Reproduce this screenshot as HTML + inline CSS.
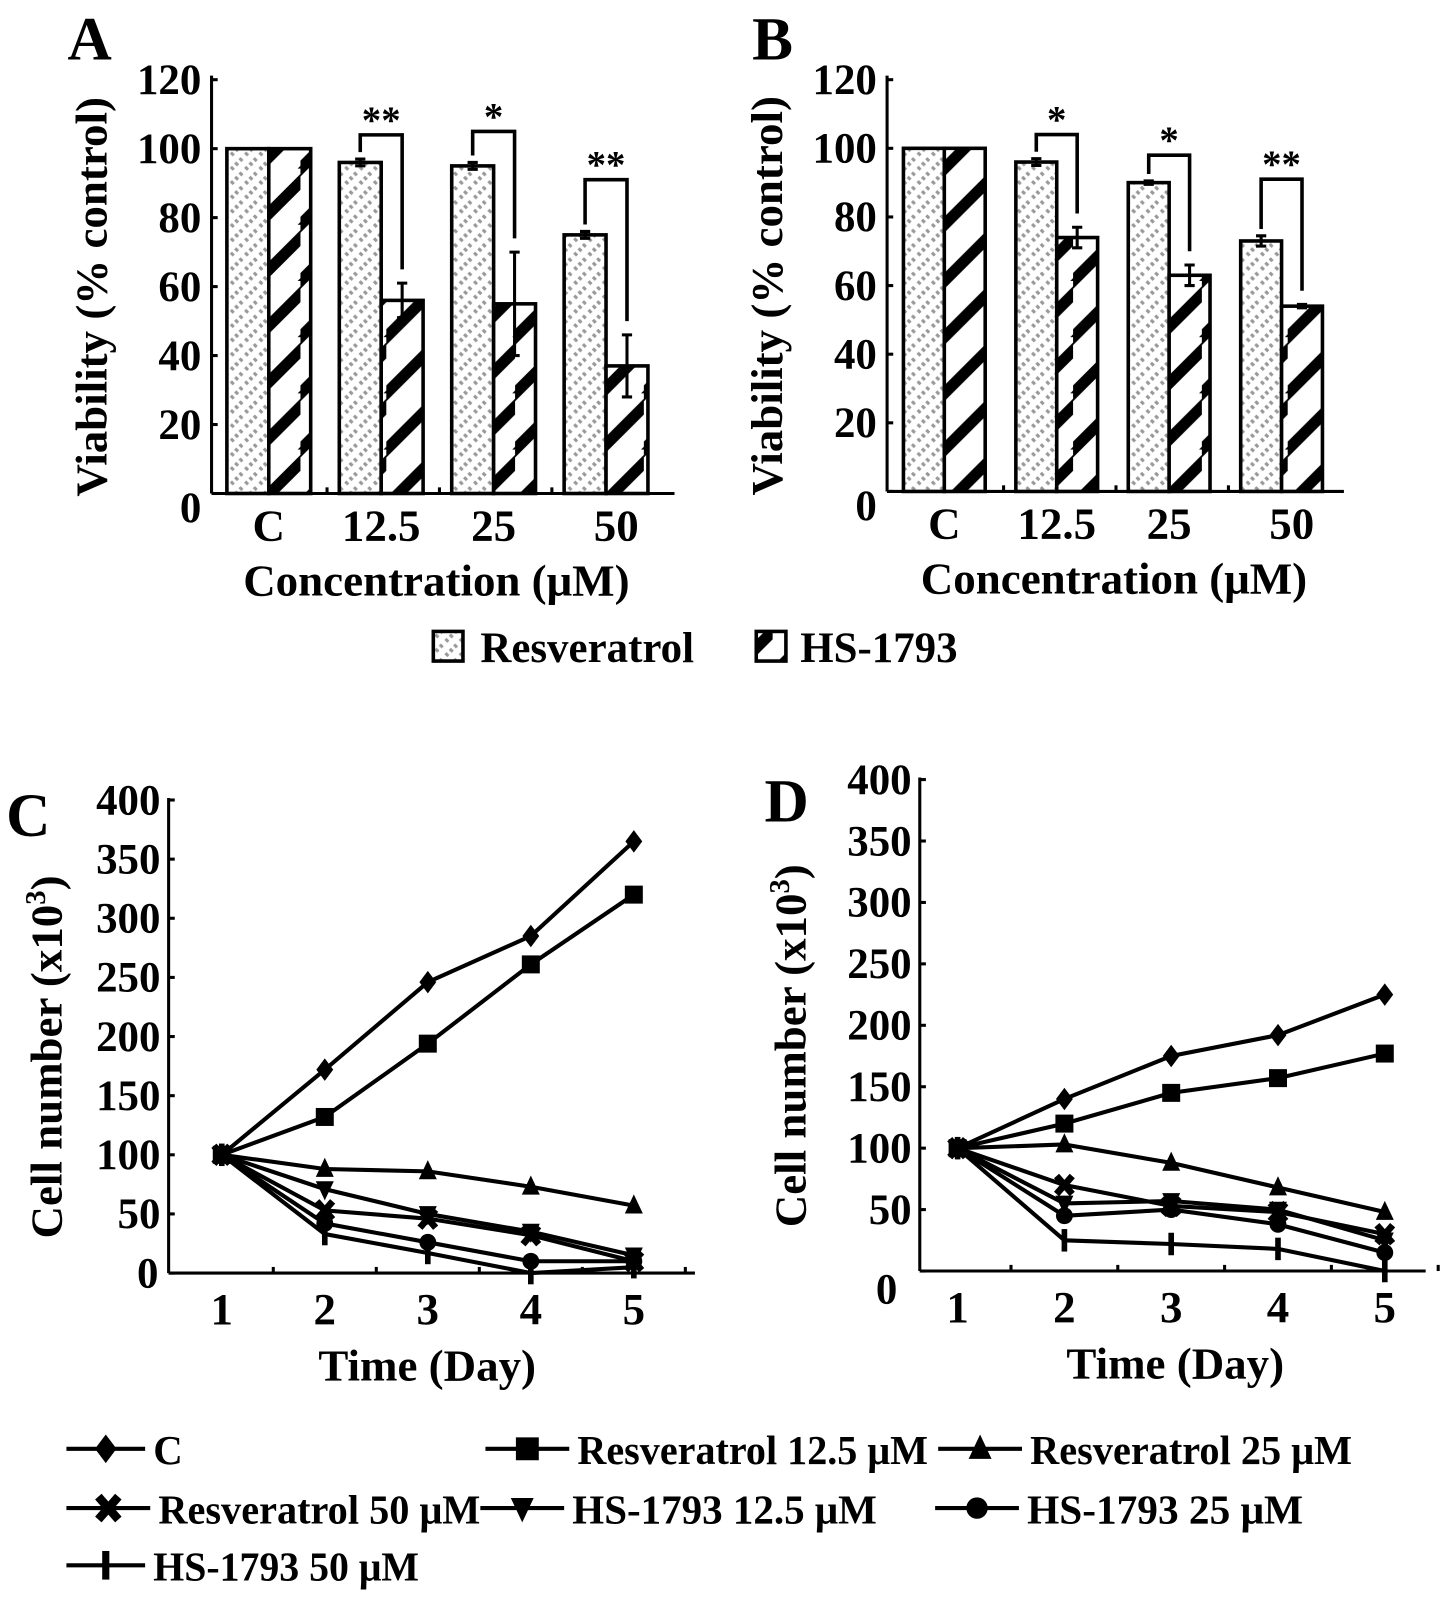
<!DOCTYPE html>
<html><head><meta charset="utf-8"><style>
html,body{margin:0;padding:0;background:#fff}
svg{display:block}
text{font-family:"Liberation Serif",serif;font-weight:bold;fill:#000}
</style></head><body>
<svg id="fig" width="1441" height="1599" viewBox="0 0 1410 1565" preserveAspectRatio="none" xmlns="http://www.w3.org/2000/svg">
<defs>
<pattern id="pResv" patternUnits="userSpaceOnUse" width="14" height="14">
<rect width="14" height="14" fill="#fff"/>
<path d="M-2,16 L16,-2" stroke="#999" stroke-width="4" stroke-dasharray="3,3"/>
</pattern>
<pattern id="pHS" patternUnits="userSpaceOnUse" width="42" height="55">
<rect width="42" height="55" fill="#fff"/>
<path d="M-5,60 L47,8 M-5,5 L10,-10 M37,65 L52,50" stroke="#000" stroke-width="11"/>
</pattern>
</defs>
<g id="root"></g>
</svg>
<script>
// ---- Bar chart data (panels A, B) ----
const barCategories = ["C", "12.5", "25", "50"];
const resvA = [100, 96, 95, 75];
const resvAErr = [0, 1, 1, 1];
const hsA = [100, 56, 55, 37];
const hsAErr = [0, 5, 15, 9];
const resvB = [100, 96, 90, 73];
const resvBErr = [0, 1, 0.5, 1.5];
const hsB = [100, 74, 63, 54];
const hsBErr = [0, 3, 3, 0.5];
const sigA = ["", "**", "*", "**"];
const sigB = ["", "*", "*", "**"];
const bracketA = [0, 104, 105, 91];
const bracketB = [0, 104, 98, 91];
const barTicks = [0, 20, 40, 60, 80, 100, 120];

// ---- Line chart data (panels C, D) ----
const days = [1, 2, 3, 4, 5];
const lineTicks = [0, 50, 100, 150, 200, 250, 300, 350, 400];
const seriesNames = ["C", "Resveratrol 12.5 μM", "Resveratrol 25 μM", "Resveratrol 50 μM", "HS-1793 12.5 μM", "HS-1793 25 μM", "HS-1793 50 μM"];
const seriesMarkers = ["diamond", "square", "triangle", "cross", "tridown", "circle", "bar"];
const cC = [100, 172, 246, 285, 365];
const cR125 = [100, 132, 194, 261, 320];
const cR25 = [100, 88, 86, 73, 57];
const cR50 = [100, 53, 46, 32, 10];
const cH125 = [100, 71, 50, 35, 15];
const cH25 = [100, 42, 26, 10, 10];
const cH50 = [100, 33, 17, 0, 5];
const dC = [100, 140, 175, 192, 225];
const dR125 = [100, 120, 145, 157, 177];
const dR25 = [100, 103, 88, 68, 48];
const dR50 = [100, 70, 53, 48, 30];
const dH125 = [100, 55, 57, 50, 25];
const dH25 = [100, 45, 50, 38, 15];
const dH50 = [100, 25, 22, 18, 0];

const NS = "http://www.w3.org/2000/svg";
const root = document.getElementById("root");
function el(tag, attrs, parent) {
  const e = document.createElementNS(NS, tag);
  for (const k in attrs) e.setAttribute(k, attrs[k]);
  (parent || root).appendChild(e);
  return e;
}
function txt(s, x, y, size, parent, anchor) {
  const t = el("text", {x: x, y: y, "font-size": size, "text-anchor": anchor || "middle"}, parent);
  t.textContent = s;
  return t;
}

function barPanel(cfg) {
  const g = el("g", {});
  
  
  const yS = v => cfg.y0 - (v / 120) * (cfg.y0 - cfg.yTop);
  const lab = txt(cfg.letter, cfg.letterX, 58, 60, g, "start");
  
  
  el("line", {x1: cfg.x0, y1: cfg.yTop - 4, x2: cfg.x0, y2: cfg.y0, stroke: "#000", "stroke-width": 3}, g);
  el("line", {x1: cfg.x0, y1: cfg.y0, x2: cfg.xEnd, y2: cfg.y0, stroke: "#000", "stroke-width": 3}, g);
  barTicks.forEach(v => {
    el("line", {x1: cfg.x0, y1: yS(v), x2: cfg.x0 + 6, y2: yS(v), stroke: "#000", "stroke-width": 3}, g);
    const t = txt(String(v), cfg.x0 - 10, yS(v) + (v === 0 ? 28 : 14), 42, g, "end");
    
    
  });
  const yt = txt("Viability (% control)", 0, 0, 44, g);
  yt.setAttribute("transform", `translate(${cfg.x0 - 103},${(cfg.y0 + cfg.yTop) / 2 + 10}) rotate(-90)`);
  
  
  const xt = txt("Concentration (μM)", cfg.xTitleX, cfg.y0 + 100, 44, g);
  
  
  const bw = cfg.bw;
  barCategories.forEach((c, i) => {
    const gx = cfg.gStart + i * cfg.gStep;
    if (i > 0) el("line", {x1: gx - 12, y1: cfg.y0, x2: gx - 12, y2: cfg.y0 - 6, stroke: "#000", "stroke-width": 3}, g);
    const r1 = el("rect", {x: gx, y: yS(cfg.resv[i]), width: bw, height: cfg.y0 - yS(cfg.resv[i]), fill: "url(#pResv)", stroke: "#000", "stroke-width": 3.5}, g);
    
    
    const r2 = el("rect", {x: gx + bw, y: yS(cfg.hs[i]), width: bw, height: cfg.y0 - yS(cfg.hs[i]), fill: "url(#pHS)", stroke: "#000", "stroke-width": 3.5}, g);
    
    
    [[gx + bw / 2, cfg.resv[i], cfg.resvErr[i]], [gx + bw * 1.5, cfg.hs[i], cfg.hsErr[i]]].forEach(([cx, v, e]) => {
      if (e <= 0) return;
      const eb = el("path", {d: `M${cx},${yS(v - e)} L${cx},${yS(v + e)} M${cx - 5},${yS(v + e)} L${cx + 5},${yS(v + e)} M${cx - 5},${yS(v - e)} L${cx + 5},${yS(v - e)}`, stroke: "#000", "stroke-width": 3, fill: "none"}, g);
      
      
    });
    if (cfg.sig[i]) {
      const bx1 = gx + bw / 2, bx2 = gx + bw * 1.5, by = yS(cfg.bracket[i]);
      const br = el("path", {d: `M${bx1},${yS(cfg.resv[i] + cfg.resvErr[i] + 2)} L${bx1},${by} L${bx2},${by} L${bx2},${yS(cfg.hs[i] + cfg.hsErr[i] + 4)}`, stroke: "#000", "stroke-width": 3.5, fill: "none"}, g);
      
      
      const st = txt(cfg.sig[i], (bx1 + bx2) / 2, by - 2, 38, g);
      
      
    }
    const cl = txt(c, gx + bw + (i === 3 ? 10 : 0), cfg.y0 + 46, 44, g);
    
    
  });
}

barPanel({name: "panel-a-chart", letter: "A", letterX: 66, x0: 207, xEnd: 660, yTop: 78, y0: 483, gStart: 222, gStep: 110, bw: 41, xTitleX: 427,
  resv: resvA, resvErr: resvAErr, hs: hsA, hsErr: hsAErr, sig: sigA, bracket: bracketA});
barPanel({name: "panel-b-chart", letter: "B", letterX: 736, x0: 868, xEnd: 1315, yTop: 78, y0: 481, gStart: 884, gStep: 110, bw: 40, xTitleX: 1090,
  resv: resvB, resvErr: resvBErr, hs: hsB, hsErr: hsBErr, sig: sigB, bracket: bracketB});

(function () {
  const g = el("g", {});
  
  
  const b1 = el("rect", {x: 424, y: 618, width: 29, height: 29, fill: "url(#pResv)", stroke: "#000", "stroke-width": 3.5}, g);
  
  
  const t1 = txt("Resveratrol", 470, 648, 42, g, "start");
  
  
  const b2 = el("rect", {x: 740, y: 618, width: 29, height: 29, fill: "url(#pHS)", stroke: "#000", "stroke-width": 3.5}, g);
  
  
  const t2 = txt("HS-1793", 783, 648, 42, g, "start");
  
  
})();

function marker(type, x, y, s, parent) {
  let m;
  if (type === "diamond") m = el("path", {d: `M${x},${y - s} L${x + s * 0.75},${y} L${x},${y + s} L${x - s * 0.75},${y} Z`}, parent);
  else if (type === "square") m = el("rect", {x: x - s * 0.8, y: y - s * 0.8, width: s * 1.6, height: s * 1.6}, parent);
  else if (type === "triangle") m = el("path", {d: `M${x},${y - s} L${x + s * 0.8},${y + s * 0.7} L${x - s * 0.8},${y + s * 0.7} Z`}, parent);
  else if (type === "tridown") m = el("path", {d: `M${x},${y + s} L${x + s * 0.8},${y - s * 0.7} L${x - s * 0.8},${y - s * 0.7} Z`}, parent);
  else if (type === "circle") m = el("circle", {cx: x, cy: y, r: s * 0.75}, parent);
  else if (type === "cross") m = el("path", {d: `M${x - s * 0.7},${y - s * 0.8} L${x + s * 0.7},${y + s * 0.8} M${x + s * 0.7},${y - s * 0.8} L${x - s * 0.7},${y + s * 0.8}`, stroke: "#000", "stroke-width": s * 0.6, fill: "none"}, parent);
  else m = el("rect", {x: x - s * 0.25, y: y - s, width: s * 0.5, height: s * 2}, parent);
  if (!m.getAttribute("fill")) m.setAttribute("fill", "#000");
  return m;
}

function linePanel(cfg) {
  const g = el("g", {});
  
  
  const yS = v => cfg.y0 - (v / 400) * (cfg.y0 - cfg.yTop);
  const xS = d => cfg.d1 + (d - 1) * cfg.dStep;
  const lab = txt(cfg.letter, cfg.letterX, cfg.letterY, 60, g, "start");
  
  
  el("line", {x1: cfg.x0, y1: cfg.yTop - 2, x2: cfg.x0, y2: cfg.y0, stroke: "#000", "stroke-width": 3}, g);
  el("line", {x1: cfg.x0, y1: cfg.y0, x2: cfg.xEnd, y2: cfg.y0, stroke: "#000", "stroke-width": 3}, g);
  lineTicks.forEach(v => {
    el("line", {x1: cfg.x0, y1: yS(v), x2: cfg.x0 + 6, y2: yS(v), stroke: "#000", "stroke-width": 3}, g);
    const t = txt(String(v), cfg.x0 - 8, yS(v) + (v === 0 ? cfg.zeroDy : 14), 42, g, "end");
    if (v === 0) t.setAttribute("x", cfg.x0 - 8 - cfg.zeroDx);
    
    
  });
  days.forEach((d) => {
    el("line", {x1: xS(d) + cfg.dStep / 2, y1: cfg.y0, x2: xS(d) + cfg.dStep / 2, y2: cfg.y0 - 6, stroke: "#000", "stroke-width": 3}, g);
    const t = txt(String(d), xS(d), cfg.y0 + 50, 44, g);
    
    
  });
  const yt = txt("Cell number (x10", 0, 0, 44, g);
  const sup = el("tspan", {"font-size": 28, dy: -16}, yt); sup.textContent = "3";
  const cp = el("tspan", {dy: 16}, yt); cp.textContent = ")";
  yt.setAttribute("transform", `translate(${cfg.yTitleX},${(cfg.y0 + cfg.yTop) / 2 + 20}) rotate(-90)`);
  
  
  const xt = txt("Time (Day)", cfg.xTitleX, cfg.y0 + 105, 44, g);
  
  
  cfg.series.forEach((vals, si) => {
    const sg = el("g", {}, g);
    
    
    const pts = vals.map((v, i) => xS(days[i]) + "," + yS(v)).join(" ");
    el("polyline", {points: pts, fill: "none", stroke: "#000", "stroke-width": 4}, sg);
    vals.forEach((v, i) => {
      const m = marker(seriesMarkers[si], xS(days[i]), yS(v), 11, sg);
      
      
    });
  });
}

linePanel({name: "panel-c-chart", letter: "C", letterX: 6, letterY: 818, x0: 165, xEnd: 680, yTop: 783, y0: 1246, d1: 217, dStep: 100.8,
  zeroDy: 14, zeroDx: 2, yTitleX: 60, xTitleX: 418, series: [cC, cR125, cR25, cR50, cH125, cH25, cH50]});
linePanel({name: "panel-d-chart", letter: "D", letterX: 748, letterY: 804, x0: 900, xEnd: 1395, yTop: 763, y0: 1244, d1: 937, dStep: 104.5,
  zeroDy: 32, zeroDx: 14, yTitleX: 788, xTitleX: 1150, series: [dC, dR125, dR25, dR50, dH125, dH25, dH50]});

const legX = [[65, 150], [475, 565], [918, 1008], [65, 155], [470, 560], [915, 1005], [65, 150]];
const legY = [1418, 1418, 1418, 1476, 1476, 1476, 1532];
const legW = [0, 343, 315, 315, 298, 270, 260];
seriesNames.forEach((n, i) => {
  const g = el("g", {});
  
  
  const [lx, tx] = legX[i], y = legY[i];
  el("line", {x1: lx, y1: y, x2: tx - 8, y2: y, stroke: "#000", "stroke-width": 4}, g);
  marker(seriesMarkers[i], (lx + tx - 8) / 2, y, 14, g);
  const t = txt(n, tx, y + 15, 40, g, "start");
  if (legW[i]) { t.setAttribute("textLength", legW[i]); t.setAttribute("lengthAdjust", "spacingAndGlyphs"); }
});
</script>
</body></html>
